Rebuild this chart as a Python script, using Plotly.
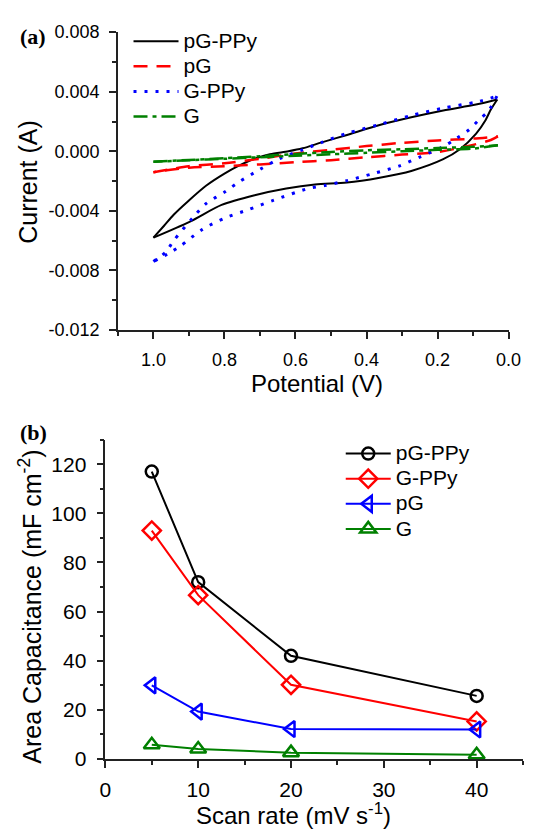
import plotly.graph_objects as go

W, H = 538, 837

# ---------------- (a) cyclic voltammetry data ----------------
pgppy_fwd_v = [1.0, 0.97, 0.943, 0.90, 0.851, 0.80, 0.762, 0.715, 0.672, 0.62, 0.58, 0.526, 0.455, 0.363, 0.274, 0.184, 0.092, 0.032]
pgppy_fwd_i = [-0.0058, -0.0050, -0.00426, -0.0033, -0.0023, -0.0015, -0.0010, -0.0005, -0.0002, 0.0, 0.0002, 0.0006, 0.0011, 0.00176, 0.00228, 0.00274, 0.00314, 0.00348]
pgppy_rev_v = [0.032, 0.05, 0.065, 0.092, 0.138, 0.184, 0.274, 0.363, 0.455, 0.545, 0.626, 0.715, 0.808, 0.897, 1.0]
pgppy_rev_i = [0.00348, 0.0028, 0.00209, 0.00117, 0.00012, -0.00053, -0.00132, -0.00177, -0.0021, -0.00223, -0.0025, -0.00295, -0.0036, -0.00472, -0.0058]

gppy_fwd_v = [1.0, 0.965, 0.943, 0.889, 0.851, 0.797, 0.762, 0.699, 0.645, 0.58, 0.526, 0.455, 0.363, 0.274, 0.184, 0.092, 0.033]
gppy_fwd_i = [-0.0074, -0.00675, -0.0060, -0.00446, -0.0035, -0.0027, -0.0021, -0.0012, -0.0005, 0.0001, 0.0006, 0.0012, 0.0018, 0.0024, 0.0029, 0.0033, 0.0037]
gppy_rev_v = [0.033, 0.057, 0.084, 0.111, 0.147, 0.184, 0.247, 0.309, 0.382, 0.455, 0.518, 0.564, 0.661, 0.734, 0.797, 0.862, 0.924, 0.959, 1.0]
gppy_rev_i = [0.0037, 0.0027, 0.0021, 0.00145, 0.00087, 0.00032, -0.00035, -0.00099, -0.0015, -0.00197, -0.0023, -0.0025, -0.00328, -0.00393, -0.00446, -0.00524, -0.00636, -0.00688, -0.0074]

pg_fwd_v = [1.0, 0.9, 0.8, 0.7, 0.6, 0.5, 0.4, 0.3, 0.2, 0.1, 0.03]
pg_fwd_i = [-0.0014, -0.0010, -0.0008, -0.0005, -0.00015, 0.0001, 0.00035, 0.00057, 0.00073, 0.00085, 0.001]
pg_rev_v = [0.03, 0.05, 0.1, 0.2, 0.3, 0.4, 0.5, 0.6, 0.7, 0.8, 0.9, 1.0]
pg_rev_i = [0.001, 0.00076, 0.00043, -0.00005, -0.00022, -0.0004, -0.0006, -0.00073, -0.00088, -0.001, -0.0011, -0.0014]

g_fwd_v = [1.0, 0.9, 0.8, 0.7, 0.6, 0.5, 0.4, 0.3, 0.2, 0.1, 0.03]
g_fwd_i = [-0.0007, -0.00058, -0.00047, -0.00033, -0.00018, -0.00005, 0.00007, 0.00014, 0.00022, 0.0003, 0.0004]
g_rev_v = [0.03, 0.1, 0.2, 0.3, 0.4, 0.5, 0.6, 0.7, 0.8, 0.9, 1.0]
g_rev_i = [0.0004, 0.00018, 0.0001, 0.0, -0.0001, -0.0002, -0.0003, -0.0004, -0.0005, -0.0006, -0.0007]

a_xticks = [1.0, 0.8, 0.6, 0.4, 0.2, 0.0]
a_xticklabels = ["1.0", "0.8", "0.6", "0.4", "0.2", "0.0"]
a_yticks = [0.008, 0.004, 0.0, -0.004, -0.008, -0.012]
a_yticklabels = ["0.008", "0.004", "0.000", "-0.004", "-0.008", "-0.012"]

# ---------------- (b) area capacitance data ----------------
scan_rate = [5, 10, 20, 40]
cap_pgppy = [117, 72, 42, 25.7]
cap_gppy = [93, 66.7, 30.2, 15.3]
cap_pg = [30, 19.3, 12.2, 12]
cap_g = [5.8, 4.1, 2.6, 1.7]

SANS = "Liberation Sans, Arial, sans-serif"
SERIF = "Liberation Serif, Times New Roman, serif"


def legend_label(name):
    return '<span style="font-size:21px">%s</span>' % name


fig = go.Figure()

cv_series = [
    ("pG-PPy", pgppy_fwd_v, pgppy_fwd_i, pgppy_rev_v, pgppy_rev_i, "black", "solid", 2),
    ("pG", pg_fwd_v, pg_fwd_i, pg_rev_v, pg_rev_i, "#ff0000", "14px,9px", 2.5),
    ("G-PPy", gppy_fwd_v, gppy_fwd_i, gppy_rev_v, gppy_rev_i, "#0000ff", "3px,8px", 3),
    ("G", g_fwd_v, g_fwd_i, g_rev_v, g_rev_i, "#008000", "14px,5px,4px,5px", 2.5),
]
for name, fv, fi, rv, ri, col, dash, lw in cv_series:
    fig.add_trace(go.Scatter(x=fv, y=fi, mode="lines", name=legend_label(name), legendgroup=name,
                             line=dict(color=col, dash=dash, width=lw, shape="spline", smoothing=0.8),
                             xaxis="x", yaxis="y", legend="legend"))
    fig.add_trace(go.Scatter(x=rv, y=ri, mode="lines", name=name, legendgroup=name, showlegend=False,
                             line=dict(color=col, dash=dash, width=lw, shape="spline", smoothing=0.8),
                             xaxis="x", yaxis="y", legend="legend"))

cap_series = [
    ("pG-PPy", cap_pgppy, "black", "circle-open", 12),
    ("G-PPy", cap_gppy, "#ff0000", "diamond-open", 14),
    ("pG", cap_pg, "#0000ff", "triangle-left-open", 14),
    ("G", cap_g, "#008000", "triangle-up-open", 14),
]
for name, vals, col, sym, ms in cap_series:
    fig.add_trace(go.Scatter(x=scan_rate, y=vals, mode="lines+markers", name=legend_label(name),
                             line=dict(color=col, width=2),
                             marker=dict(symbol=sym, size=ms, color=col, line=dict(color=col, width=2.5)),
                             xaxis="x2", yaxis="y2", legend="legend2"))

axis_common = dict(showline=True, linecolor="#222", linewidth=1.5, mirror=False,
                   ticks="outside", ticklen=7, tickwidth=1.5, tickcolor="#222",
                   showgrid=False, zeroline=False)
minor_common = dict(ticks="outside", ticklen=4, tickwidth=1.5, tickcolor="#222", tick0=0)

fig.update_layout(
    width=W, height=H, autosize=False,
    margin=dict(l=0, r=0, t=0, b=0),
    paper_bgcolor="white", plot_bgcolor="white",
    font=dict(family=SANS, color="black"),
    xaxis=dict(domain=[116 / W, 521 / W], range=[1.1, 0.0], anchor="y",
               tickmode="array", tickvals=a_xticks, ticktext=a_xticklabels,
               tickfont=dict(size=18, family=SANS), ticklabelstandoff=6,
               minor=dict(dtick=0.1, **minor_common), **axis_common),
    yaxis=dict(domain=[1 - 328.3 / H, 1 - 22.7 / H], range=[-0.012, 0.008], anchor="x",
               tickmode="array", tickvals=a_yticks, ticktext=a_yticklabels,
               tickfont=dict(size=18, family=SANS), ticklabelstandoff=6,
               minor=dict(dtick=0.002, **minor_common), **axis_common),
    xaxis2=dict(domain=[103 / W, 536 / W], range=[0, 45], anchor="y2",
                tick0=0, dtick=10, tickfont=dict(size=21, family=SANS), ticklabelstandoff=4,
                minor=dict(dtick=5, **minor_common), **axis_common),
    yaxis2=dict(domain=[1 - 768.3 / H, 1 - 440.7 / H], range=[0, 130], anchor="x2",
                tick0=0, dtick=20, tickfont=dict(size=21, family=SANS), ticklabelstandoff=6,
                minor=dict(dtick=10, **minor_common), **axis_common),
    legend=dict(x=127 / W, y=1 - 14 / H, xanchor="left", yanchor="top",
                bgcolor="rgba(0,0,0,0)", font=dict(size=17, family=SANS),
                itemwidth=45, tracegroupgap=0),
    legend2=dict(x=347 / W, y=1 - 437 / H, xanchor="left", yanchor="top",
                 bgcolor="rgba(0,0,0,0)", font=dict(size=17, family=SANS),
                 itemwidth=45, tracegroupgap=0),
    showlegend=True,
)

annotations = [
    dict(text="<b>(a)</b>", x=12 / W, y=1 - 27 / H, xanchor="left", yanchor="middle",
         font=dict(family=SERIF, size=22)),
    dict(text="<b>(b)</b>", x=12 / W, y=1 - 433 / H, xanchor="left", yanchor="middle",
         font=dict(family=SERIF, size=22)),
    dict(text="Current (A)", x=22 / W, y=1 - 176 / H, textangle=-90, xanchor="center", yanchor="middle",
         font=dict(family=SANS, size=25)),
    dict(text="Potential (V)", x=322 / W, y=1 - 383 / H, xanchor="center", yanchor="middle",
         font=dict(family=SANS, size=24)),
    dict(text="Area Capacitance (mF cm<sup>-2</sup>)", x=25 / W, y=1 - 612 / H, textangle=-90,
         xanchor="center", yanchor="middle", font=dict(family=SANS, size=25)),
    dict(text="Scan rate (mV s<sup>-1</sup>)", x=298 / W, y=1 - 825 / H, xanchor="center", yanchor="middle",
         font=dict(family=SANS, size=24)),
]
for a in annotations:
    a.update(xref="paper", yref="paper", showarrow=False)
fig.update_layout(annotations=annotations)

fig.write_html(
    "out.html",
    config={"displayModeBar": False},
    post_script=("document.documentElement.style.margin='0';document.documentElement.style.overflow='hidden';"
                 "document.body.style.margin='0';document.body.style.padding='0';document.body.style.overflow='hidden';"),
)
